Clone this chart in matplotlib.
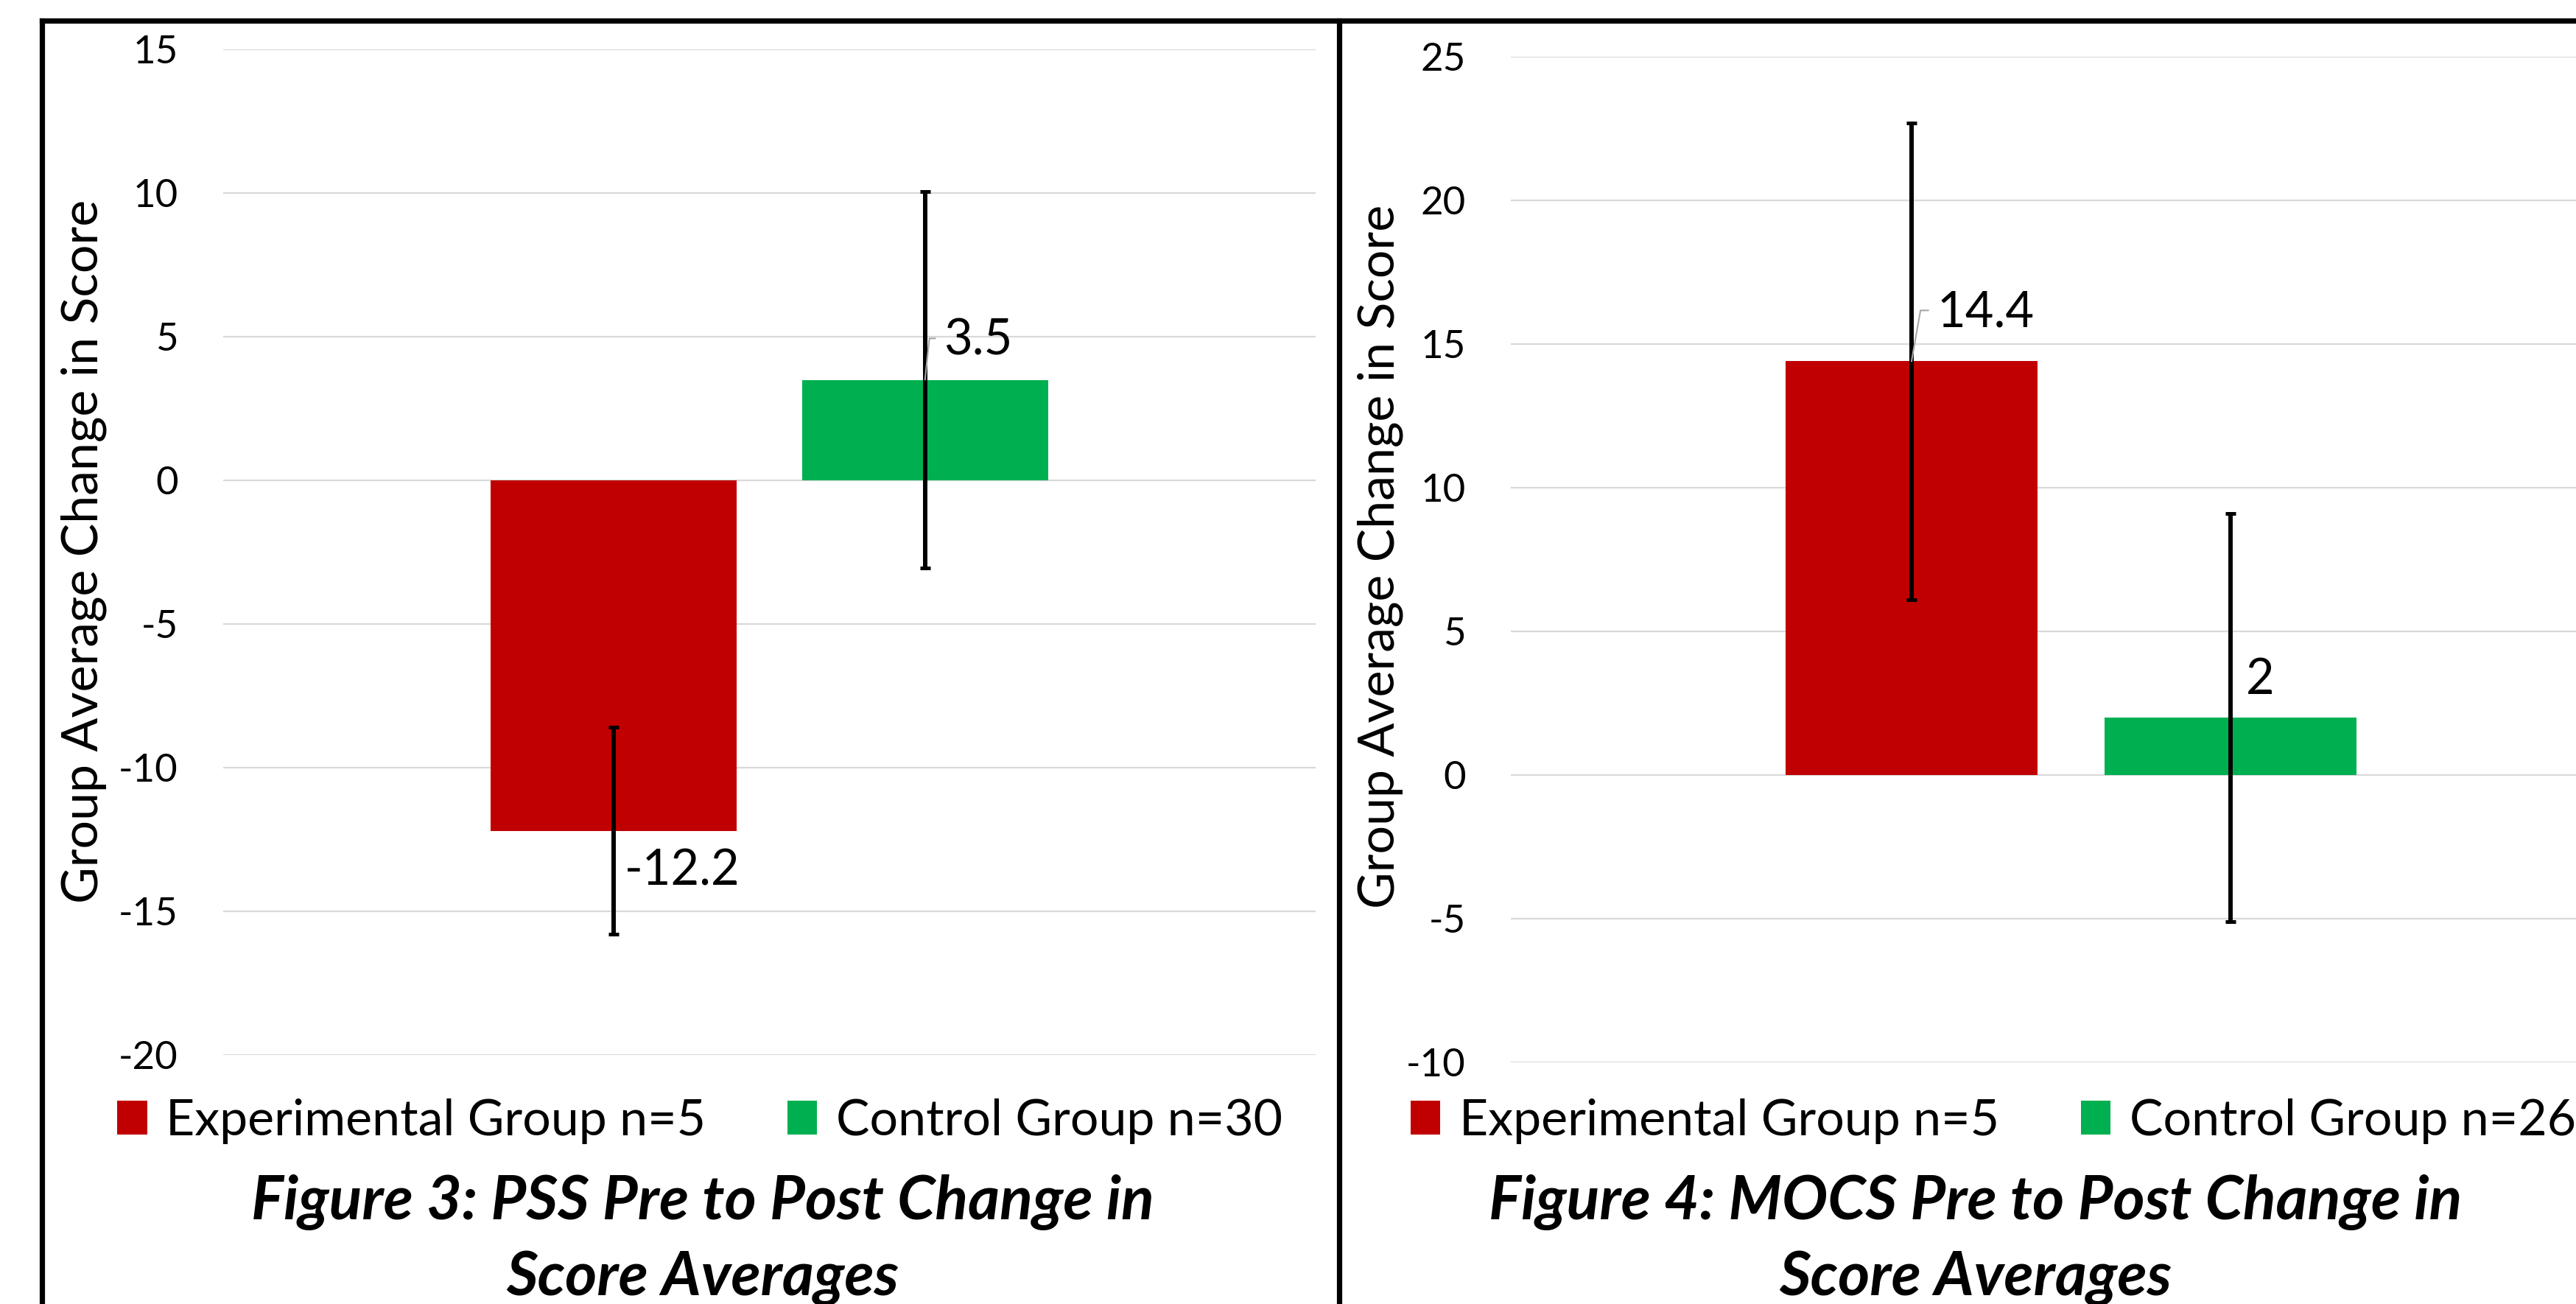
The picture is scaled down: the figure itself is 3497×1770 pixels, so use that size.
import matplotlib
matplotlib.use("Agg")
import matplotlib.pyplot as plt
from matplotlib.lines import Line2D

plt.rcParams['font.family'] = ['Lato', 'DejaVu Sans']
plt.rcParams['axes.unicode_minus'] = False

# data
pss_groups = ['Experimental Group n=5', 'Control Group n=30']
pss_means = [-12.2, 3.5]
pss_err = [3.6, 6.55]
pss_title = ['Figure 3: PSS Pre to Post Change in', 'Score Averages']
pss_ylim = (-20, 15)

mocs_groups = ['Experimental Group n=5', 'Control Group n=26']
mocs_means = [14.4, 2.0]
mocs_err = [8.3, 7.1]
mocs_title = ['Figure 4: MOCS Pre to Post Change in', 'Score Averages']
mocs_ylim = (-10, 25)

y_label = 'Group Average Change in Score'
colors = ['#C00000', '#00B050']

W, H = 3497, 1770
fig = plt.figure(figsize=(W / 100, H / 100), dpi=100)


def fx(px):
    return px / W


def fy(px):
    return 1 - px / H


panels = [
    dict(groups=pss_groups, means=pss_means, err=pss_err, title=pss_title, ylim=pss_ylim,
         rect=[fx(303), fy(1432), fx(1786 - 303), (1432 - 67) / H],
         xlim=(-1.255, 2.255), ylab_x=114, ylab_y=748, leg_x=950, title_x=954,
         # label offsets in points (dx, dy) and leader angle (None = no leader)
         offs=[(10.8, -53.3, None), (18, 24.5, 84)]),
    dict(groups=mocs_groups, means=mocs_means, err=mocs_err, title=mocs_title, ylim=mocs_ylim,
         rect=[fx(2051), fy(1442), fx(3572 - 2051), (1442 - 77) / H],
         xlim=(-1.256, 2.256), ylab_x=1874, ylab_y=755, leg_x=2706, title_x=2682,
         offs=[(24.5, 33.8, 80), (15, 23, None)]),
]

for p in panels:
    ax = fig.add_axes(p['rect'])
    xs = range(len(p['means']))
    bars = ax.bar(xs, p['means'], width=0.79, color=colors, zorder=2)
    ax.errorbar(xs, p['means'], yerr=p['err'], fmt='none', ecolor='black',
                elinewidth=4.3, capsize=4.7, capthick=3.6, zorder=3)
    ax.set_xlim(*p['xlim'])
    ax.set_ylim(*p['ylim'])
    ax.set_yticks(range(p['ylim'][0], p['ylim'][1] + 1, 5))
    ax.set_xticks([])
    ax.tick_params(axis='y', length=0, pad=44, labelsize=38)
    ax.grid(axis='y', color='#D9D9D9', linewidth=1.6, zorder=0)
    ax.set_axisbelow(True)
    for s in ax.spines.values():
        s.set_visible(False)

    for x, v, (dx, dy, ang) in zip(xs, p['means'], p['offs']):
        kw = {}
        if ang is not None:
            kw['arrowprops'] = dict(arrowstyle='-', color='#A6A6A6', lw=1.5,
                                    shrinkA=6, shrinkB=0, relpos=(0, 0.55),
                                    connectionstyle=f'angle,angleA=0,angleB={ang},rad=0')
        ax.annotate(f'{v:g}', xy=(x, v), xytext=(dx, dy), textcoords='offset points',
                    ha='left', va='baseline', fontsize=48, zorder=4, **kw)

    fig.text(fx(p['ylab_x']), fy(p['ylab_y']), y_label, rotation=90,
             ha='center', va='center', fontsize=49)

    fig.legend(bars, p['groups'], loc='center', bbox_to_anchor=(fx(p['leg_x']), fy(1522)),
               ncol=2, frameon=False, fontsize=49, handlelength=0.6, handleheight=0.65,
               handletextpad=0.38, columnspacing=1.62, borderaxespad=0, borderpad=0)

    fig.text(fx(p['title_x']), fy(1655), p['title'][0], ha='center', va='baseline',
             fontsize=59.5, fontweight='bold', fontstyle='italic')
    fig.text(fx(p['title_x']), fy(1758), p['title'][1], ha='center', va='baseline',
             fontsize=59.5, fontweight='bold', fontstyle='italic')

# black frame lines: top, left edge and the divider between the two charts
for xy in [([fx(57), 1], [fy(28), fy(28)]),
           ([fx(57), fx(57)], [fy(28), 0]),
           ([fx(1818), fx(1818)], [fy(28), 0])]:
    fig.add_artist(Line2D(xy[0], xy[1], transform=fig.transFigure, color='black',
                          linewidth=5.2, solid_capstyle='projecting'))

fig.savefig('out.png', dpi=100, facecolor='white')
